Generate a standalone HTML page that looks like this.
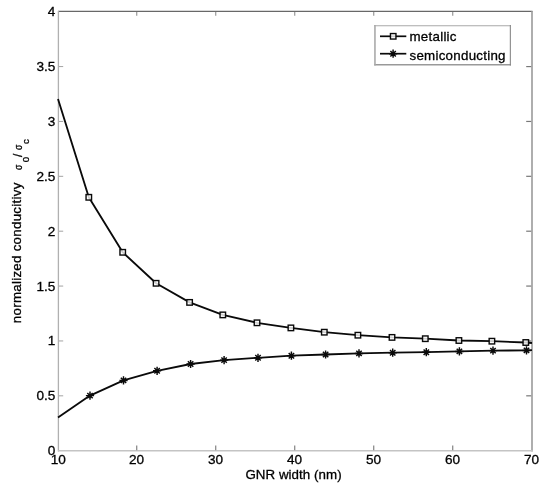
<!DOCTYPE html>
<html><head><meta charset="utf-8"><title>GNR conductivity</title>
<style>
html,body{margin:0;padding:0;background:#fff;}
body{width:550px;height:494px;overflow:hidden;}
svg{display:block;}
text{font-family:"Liberation Sans",Arial,Helvetica,sans-serif;fill:#000;stroke:#000;stroke-width:0.3px;}
</style></head><body>
<svg width="550" height="494" viewBox="0 0 550 494">
<rect width="550" height="494" fill="#fff"/>

<line x1="58" y1="11.4" x2="532.5" y2="11.4" stroke="#686868" stroke-width="1.2"/>
<line x1="58.4" y1="11" x2="58.4" y2="451.5" stroke="#b0b0b0" stroke-width="1.3"/>
<line x1="532" y1="11" x2="532" y2="451.6" stroke="#9a9a9a" stroke-width="1.6"/>
<line x1="58" y1="450.85" x2="532.8" y2="450.85" stroke="#c4c4c4" stroke-width="1.5"/>
<text x="58.2" y="464.3" font-size="13.6" text-anchor="middle">10</text>
<line x1="136.7" y1="450.2" x2="136.7" y2="445.6" stroke="#8c8c8c" stroke-width="1.3"/>
<line x1="136.7" y1="12" x2="136.7" y2="15.7" stroke="#a0a0a0" stroke-width="1.3"/>
<text x="136.5" y="464.3" font-size="13.6" text-anchor="middle">20</text>
<line x1="215.7" y1="450.2" x2="215.7" y2="445.6" stroke="#8c8c8c" stroke-width="1.3"/>
<line x1="215.7" y1="12" x2="215.7" y2="15.7" stroke="#a0a0a0" stroke-width="1.3"/>
<text x="215.5" y="464.3" font-size="13.6" text-anchor="middle">30</text>
<line x1="294.7" y1="450.2" x2="294.7" y2="445.6" stroke="#8c8c8c" stroke-width="1.3"/>
<line x1="294.7" y1="12" x2="294.7" y2="15.7" stroke="#a0a0a0" stroke-width="1.3"/>
<text x="294.5" y="464.3" font-size="13.6" text-anchor="middle">40</text>
<line x1="373.7" y1="450.2" x2="373.7" y2="445.6" stroke="#8c8c8c" stroke-width="1.3"/>
<line x1="373.7" y1="12" x2="373.7" y2="15.7" stroke="#a0a0a0" stroke-width="1.3"/>
<text x="373.5" y="464.3" font-size="13.6" text-anchor="middle">50</text>
<line x1="452.7" y1="450.2" x2="452.7" y2="445.6" stroke="#8c8c8c" stroke-width="1.3"/>
<line x1="452.7" y1="12" x2="452.7" y2="15.7" stroke="#a0a0a0" stroke-width="1.3"/>
<text x="452.5" y="464.3" font-size="13.6" text-anchor="middle">60</text>
<text x="531.5" y="464.3" font-size="13.6" text-anchor="middle">70</text>
<text x="55.4" y="455.20" font-size="13.6" text-anchor="end">0</text>
<line x1="59" y1="395.82" x2="63.2" y2="395.82" stroke="#999" stroke-width="0.9"/>
<line x1="531.2" y1="395.82" x2="526.2" y2="395.82" stroke="#787878" stroke-width="1.2"/>
<text x="55.4" y="400.32" font-size="13.6" text-anchor="end">0.5</text>
<line x1="59" y1="340.95" x2="63.2" y2="340.95" stroke="#999" stroke-width="0.9"/>
<line x1="531.2" y1="340.95" x2="526.2" y2="340.95" stroke="#787878" stroke-width="1.2"/>
<text x="55.4" y="345.45" font-size="13.6" text-anchor="end">1</text>
<line x1="59" y1="286.07" x2="63.2" y2="286.07" stroke="#999" stroke-width="0.9"/>
<line x1="531.2" y1="286.07" x2="526.2" y2="286.07" stroke="#787878" stroke-width="1.2"/>
<text x="55.4" y="290.57" font-size="13.6" text-anchor="end">1.5</text>
<line x1="59" y1="231.20" x2="63.2" y2="231.20" stroke="#999" stroke-width="0.9"/>
<line x1="531.2" y1="231.20" x2="526.2" y2="231.20" stroke="#787878" stroke-width="1.2"/>
<text x="55.4" y="235.70" font-size="13.6" text-anchor="end">2</text>
<line x1="59" y1="176.32" x2="63.2" y2="176.32" stroke="#999" stroke-width="0.9"/>
<line x1="531.2" y1="176.32" x2="526.2" y2="176.32" stroke="#787878" stroke-width="1.2"/>
<text x="55.4" y="180.82" font-size="13.6" text-anchor="end">2.5</text>
<line x1="59" y1="121.45" x2="63.2" y2="121.45" stroke="#999" stroke-width="0.9"/>
<line x1="531.2" y1="121.45" x2="526.2" y2="121.45" stroke="#787878" stroke-width="1.2"/>
<text x="55.4" y="125.95" font-size="13.6" text-anchor="end">3</text>
<line x1="59" y1="66.57" x2="63.2" y2="66.57" stroke="#999" stroke-width="0.9"/>
<line x1="531.2" y1="66.57" x2="526.2" y2="66.57" stroke="#787878" stroke-width="1.2"/>
<text x="55.4" y="71.07" font-size="13.6" text-anchor="end">3.5</text>
<text x="55.4" y="16.20" font-size="13.6" text-anchor="end">4</text>
<polyline points="58.0,99.0 88.8,197.3 122.7,252.3 156.1,283.3 189.6,302.4 222.8,314.9 257.0,322.8 290.9,327.9 324.3,332.2 357.9,335.2 392.0,337.4 425.3,338.7 458.9,340.5 491.9,341.2 525.8,342.5 532.0,343.0" fill="none" stroke="#0a0a0a" stroke-width="1.85" stroke-linejoin="round"/>
<polyline points="58.0,417.5 90.0,395.6 123.5,380.4 157.1,370.8 190.6,364.0 224.1,360.1 258.0,357.8 291.4,355.7 325.6,354.5 359.0,353.4 392.7,352.7 426.3,352.2 459.4,351.4 493.0,350.6 526.5,350.4 532.0,350.2" fill="none" stroke="#0a0a0a" stroke-width="1.85" stroke-linejoin="round"/>
<rect x="86.05" y="194.55" width="5.5" height="5.5" fill="#fff" fill-opacity="0.8" stroke="#0a0a0a" stroke-width="1.4"/>
<rect x="119.95" y="249.55" width="5.5" height="5.5" fill="#fff" fill-opacity="0.8" stroke="#0a0a0a" stroke-width="1.4"/>
<rect x="153.35" y="280.55" width="5.5" height="5.5" fill="#fff" fill-opacity="0.8" stroke="#0a0a0a" stroke-width="1.4"/>
<rect x="186.85" y="299.65" width="5.5" height="5.5" fill="#fff" fill-opacity="0.8" stroke="#0a0a0a" stroke-width="1.4"/>
<rect x="220.05" y="312.15" width="5.5" height="5.5" fill="#fff" fill-opacity="0.8" stroke="#0a0a0a" stroke-width="1.4"/>
<rect x="254.25" y="320.05" width="5.5" height="5.5" fill="#fff" fill-opacity="0.8" stroke="#0a0a0a" stroke-width="1.4"/>
<rect x="288.15" y="325.15" width="5.5" height="5.5" fill="#fff" fill-opacity="0.8" stroke="#0a0a0a" stroke-width="1.4"/>
<rect x="321.55" y="329.45" width="5.5" height="5.5" fill="#fff" fill-opacity="0.8" stroke="#0a0a0a" stroke-width="1.4"/>
<rect x="355.15" y="332.45" width="5.5" height="5.5" fill="#fff" fill-opacity="0.8" stroke="#0a0a0a" stroke-width="1.4"/>
<rect x="389.25" y="334.65" width="5.5" height="5.5" fill="#fff" fill-opacity="0.8" stroke="#0a0a0a" stroke-width="1.4"/>
<rect x="422.55" y="335.95" width="5.5" height="5.5" fill="#fff" fill-opacity="0.8" stroke="#0a0a0a" stroke-width="1.4"/>
<rect x="456.15" y="337.75" width="5.5" height="5.5" fill="#fff" fill-opacity="0.8" stroke="#0a0a0a" stroke-width="1.4"/>
<rect x="489.15" y="338.45" width="5.5" height="5.5" fill="#fff" fill-opacity="0.8" stroke="#0a0a0a" stroke-width="1.4"/>
<rect x="523.05" y="339.75" width="5.5" height="5.5" fill="#fff" fill-opacity="0.8" stroke="#0a0a0a" stroke-width="1.4"/>
<path d="M85.90 395.60H94.10M90.00 391.50V399.70M87.30 392.90L92.70 398.30M87.30 398.30L92.70 392.90" stroke="#0a0a0a" stroke-width="1.45" fill="none"/>
<path d="M119.40 380.40H127.60M123.50 376.30V384.50M120.80 377.70L126.20 383.10M120.80 383.10L126.20 377.70" stroke="#0a0a0a" stroke-width="1.45" fill="none"/>
<path d="M153.00 370.80H161.20M157.10 366.70V374.90M154.40 368.10L159.80 373.50M154.40 373.50L159.80 368.10" stroke="#0a0a0a" stroke-width="1.45" fill="none"/>
<path d="M186.50 364.00H194.70M190.60 359.90V368.10M187.90 361.30L193.30 366.70M187.90 366.70L193.30 361.30" stroke="#0a0a0a" stroke-width="1.45" fill="none"/>
<path d="M220.00 360.10H228.20M224.10 356.00V364.20M221.40 357.40L226.80 362.80M221.40 362.80L226.80 357.40" stroke="#0a0a0a" stroke-width="1.45" fill="none"/>
<path d="M253.90 357.80H262.10M258.00 353.70V361.90M255.30 355.10L260.70 360.50M255.30 360.50L260.70 355.10" stroke="#0a0a0a" stroke-width="1.45" fill="none"/>
<path d="M287.30 355.70H295.50M291.40 351.60V359.80M288.70 353.00L294.10 358.40M288.70 358.40L294.10 353.00" stroke="#0a0a0a" stroke-width="1.45" fill="none"/>
<path d="M321.50 354.50H329.70M325.60 350.40V358.60M322.90 351.80L328.30 357.20M322.90 357.20L328.30 351.80" stroke="#0a0a0a" stroke-width="1.45" fill="none"/>
<path d="M354.90 353.40H363.10M359.00 349.30V357.50M356.30 350.70L361.70 356.10M356.30 356.10L361.70 350.70" stroke="#0a0a0a" stroke-width="1.45" fill="none"/>
<path d="M388.60 352.70H396.80M392.70 348.60V356.80M390.00 350.00L395.40 355.40M390.00 355.40L395.40 350.00" stroke="#0a0a0a" stroke-width="1.45" fill="none"/>
<path d="M422.20 352.20H430.40M426.30 348.10V356.30M423.60 349.50L429.00 354.90M423.60 354.90L429.00 349.50" stroke="#0a0a0a" stroke-width="1.45" fill="none"/>
<path d="M455.30 351.40H463.50M459.40 347.30V355.50M456.70 348.70L462.10 354.10M456.70 354.10L462.10 348.70" stroke="#0a0a0a" stroke-width="1.45" fill="none"/>
<path d="M488.90 350.60H497.10M493.00 346.50V354.70M490.30 347.90L495.70 353.30M490.30 353.30L495.70 347.90" stroke="#0a0a0a" stroke-width="1.45" fill="none"/>
<path d="M522.40 350.40H530.60M526.50 346.30V354.50M523.80 347.70L529.20 353.10M523.80 353.10L529.20 347.70" stroke="#0a0a0a" stroke-width="1.45" fill="none"/>
<rect x="375" y="25.8" width="135.3" height="38.9" fill="#fff"/>
<line x1="374.2" y1="25.8" x2="511" y2="25.8" stroke="#a8a8a8" stroke-width="1.1"/>
<line x1="374.2" y1="64.7" x2="511" y2="64.7" stroke="#999" stroke-width="1.5"/>
<line x1="374.95" y1="25.1" x2="374.95" y2="65.4" stroke="#aaa" stroke-width="1.6"/>
<line x1="510.35" y1="25.1" x2="510.35" y2="65.4" stroke="#888" stroke-width="1.1"/>
<line x1="380" y1="36.3" x2="406.3" y2="36.3" stroke="#0a0a0a" stroke-width="1.7"/>
<line x1="380" y1="53.7" x2="406.3" y2="53.7" stroke="#0a0a0a" stroke-width="1.7"/>
<rect x="390.45" y="33.55" width="5.5" height="5.5" fill="#fff" fill-opacity="0.8" stroke="#0a0a0a" stroke-width="1.4"/>
<path d="M389.00 53.70H397.20M393.10 49.60V57.80M390.40 51.00L395.80 56.40M390.40 56.40L395.80 51.00" stroke="#0a0a0a" stroke-width="1.45" fill="none"/>
<text x="409.5" y="40.6" font-size="13.33" textLength="47" lengthAdjust="spacing">metallic</text>
<text x="409.5" y="59.5" font-size="13.33" textLength="96" lengthAdjust="spacing">semiconducting</text>
<text x="245.4" y="479.4" font-size="13.33" textLength="96.2" lengthAdjust="spacing">GNR width (nm)</text>
<g transform="translate(21,323.2) rotate(-90)">
<text x="0" y="0" font-size="13.33" textLength="140.5" lengthAdjust="spacing">normalized conducitivy</text>
<text transform="translate(153.3,0.6) scale(0.78,1)" font-size="11" stroke-width="0.6">σ</text>
<text x="160.9" y="8.05" font-size="9.8" stroke-width="0.45">0</text>
<text x="166.2" y="0.6" font-size="12">/</text>
<text transform="translate(173.1,0.6) scale(0.78,1)" font-size="11" stroke-width="0.6">σ</text>
<text x="179.2" y="8.05" font-size="9.8" stroke-width="0.45">c</text>
</g>
</svg></body></html>
